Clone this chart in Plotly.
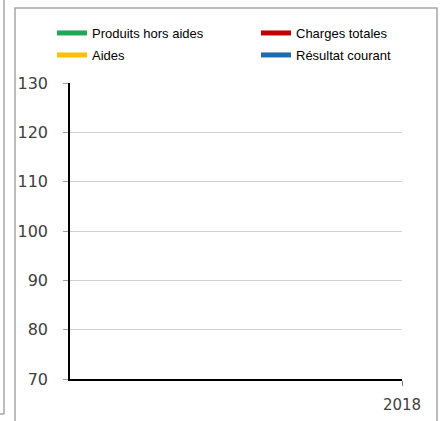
import plotly.graph_objects as go

years = [2018]
produits_hors_aides = [None]
charges_totales = [None]
aides = [None]
resultat_courant = [None]
y_ticks = [70, 80, 90, 100, 110, 120, 130]

series = [
    ("Produits hors aides", produits_hors_aides, "#21a657", "legend"),
    ("Charges totales", charges_totales, "#c00000", "legend2"),
    ("Aides", aides, "#ffc000", "legend3"),
    ("Résultat courant", resultat_courant, "#1f6bb0", "legend4"),
]

fig = go.Figure()
for name, vals, col, lg in series:
    fig.add_trace(go.Scatter(x=years, y=vals, name=name, mode="lines", legend=lg,
                             line=dict(color=col, width=5)))

W, H = 441, 421
L, R, T, B = 70, 39, 83, 42
pw, ph = W - L - R, H - T - B
def px(x): return (x - L) / pw
def py(y): return (H - B - y) / ph

legfont = dict(size=13, color="#000000", family="Liberation Sans, Arial, sans-serif")
def leg(x, y):
    return dict(x=px(x), y=py(y), xanchor="left", yanchor="middle", font=legfont,
                bgcolor="rgba(0,0,0,0)", itemwidth=30)

fig.update_layout(
    width=W, height=H,
    margin=dict(l=L, r=R, t=T, b=B, autoexpand=False),
    plot_bgcolor="white", paper_bgcolor="white",
    font=dict(family="Liberation Sans, Arial, sans-serif", color="#404040"),
    showlegend=True,
    legend=leg(52, 33),
    legend2=leg(256, 33),
    legend3=leg(52, 55),
    legend4=leg(256, 55),
    xaxis=dict(range=[2017, 2018], tickvals=years, ticktext=[str(y) for y in years],
               showgrid=False, zeroline=False, showline=True, linecolor="#000000", linewidth=2,
               ticks="outside", ticklen=5, tickcolor="#808080", ticklabelstandoff=6,
               tickfont=dict(size=15, family="DejaVu Sans, Verdana, sans-serif", color="#404040"),
               automargin=False, fixedrange=True),
    yaxis=dict(range=[70, 130], tickvals=y_ticks, showgrid=True, gridcolor="#d0d0d0", gridwidth=1,
               zeroline=False, showline=True, linecolor="#000000", linewidth=1.5,
               ticks="outside", ticklen=5, tickcolor="#a0a0a0", ticklabelstandoff=12,
               tickfont=dict(size=16, family="DejaVu Sans, Verdana, sans-serif", color="#404040"),
               automargin=False, fixedrange=True),
    shapes=[
        dict(type="rect", xref="paper", yref="paper", x0=px(15), x1=px(437), y0=py(430), y1=py(8),
             line=dict(color="#a6a6a6", width=1.5), fillcolor="rgba(0,0,0,0)", layer="below"),
        dict(type="line", xref="paper", yref="paper", x0=px(4), x1=px(4), y0=py(414), y1=py(-5),
             line=dict(color="#a6a6a6", width=1.5)),
        dict(type="line", xref="paper", yref="paper", x0=px(-5), x1=px(4), y0=py(414), y1=py(414),
             line=dict(color="#a6a6a6", width=1.5)),
    ],
)

fig.write_html("out.html", config={"displayModeBar": False},
               post_script="document.body.style.margin='0';")
